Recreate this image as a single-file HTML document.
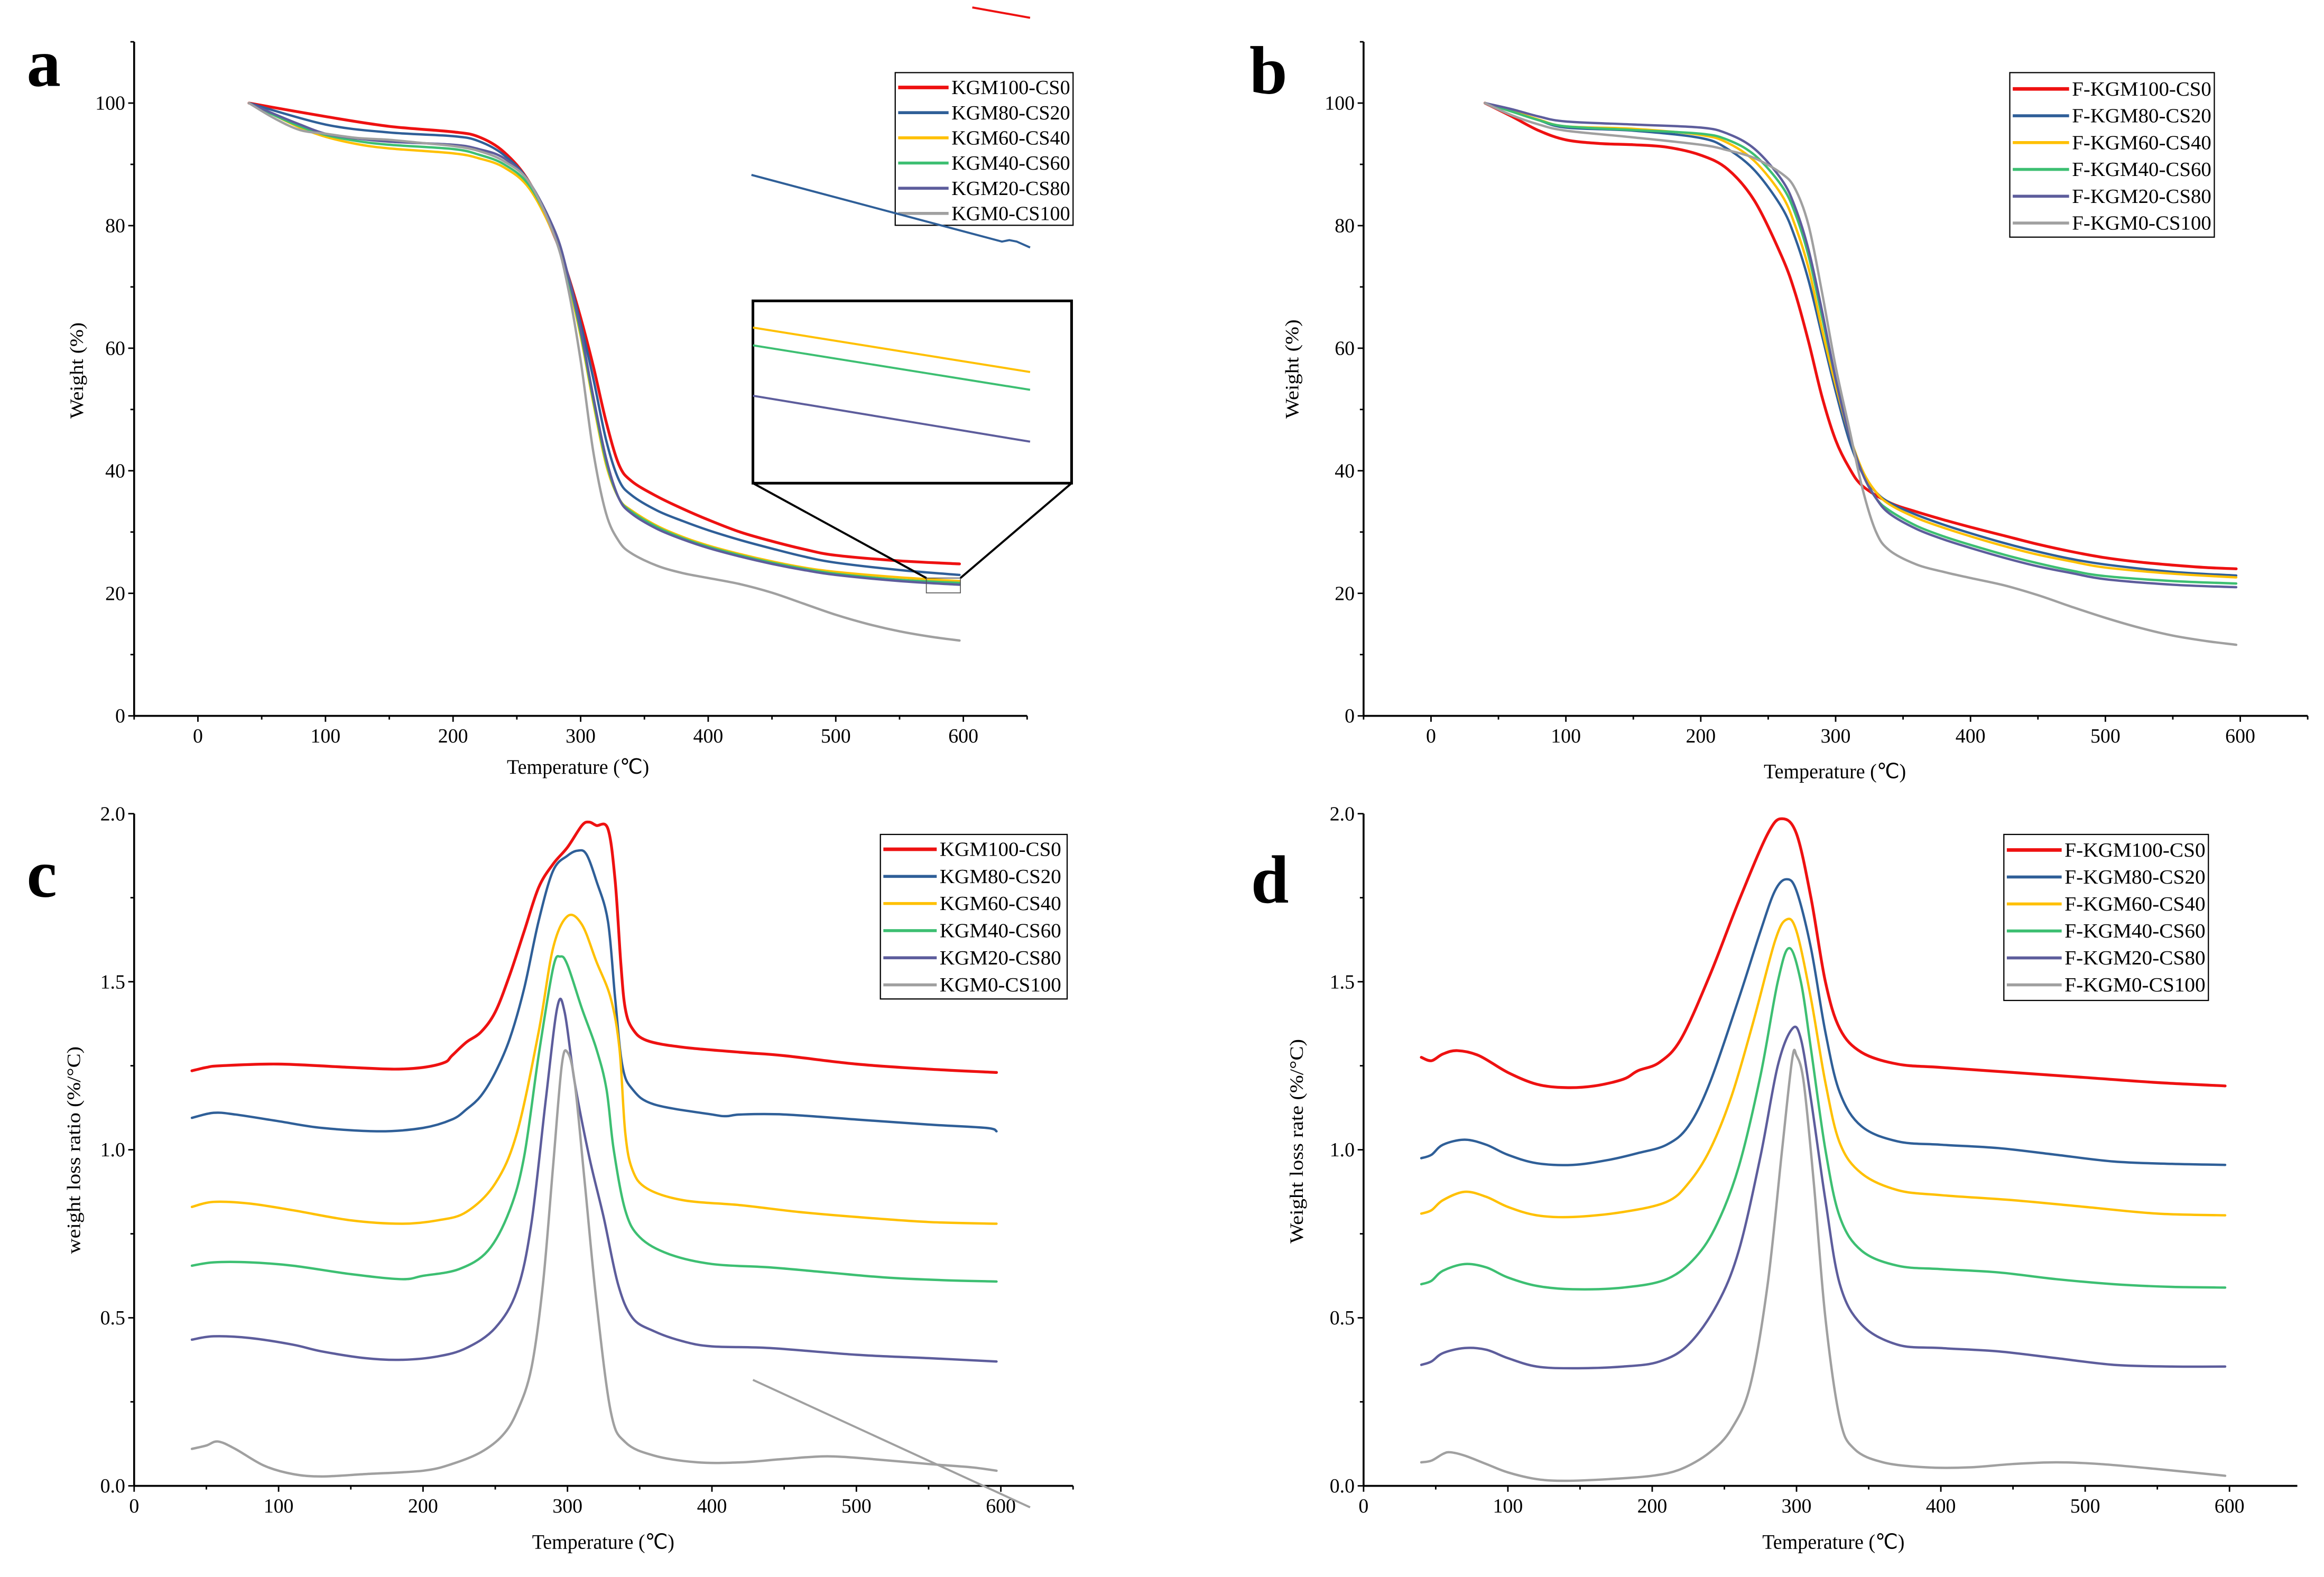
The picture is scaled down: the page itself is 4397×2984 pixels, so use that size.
<!DOCTYPE html>
<html><head><meta charset="utf-8"><style>
html,body{margin:0;padding:0;background:#fff;}
svg{display:block;}
text{font-family:"Liberation Serif",serif;fill:#000;}
</style></head><body>
<svg id="fig" xmlns="http://www.w3.org/2000/svg" width="4397" height="2984" viewBox="0 0 1568 1064" preserveAspectRatio="none">
<rect x="0" y="0" width="1568" height="1064" fill="#fff"/>
<g id="layer"></g>
</svg>
<script>
// ---------- Panel a data (TGA, Weight %) ----------
const a_KGM100_T = [40,100,150,200,220,240,260,280,290,300,310,320,330,340,360,380,400,425,450,475,500,550,597];
const a_KGM100_W = [100,97.8,96.2,95.3,94.5,92,87,78,72,65,57,48,41,38.3,35.8,33.8,32,30,28.5,27.2,26.2,25.3,24.8];
const a_KGM80_T = [40,100,150,200,220,240,260,280,290,300,310,320,330,340,360,380,400,425,450,475,500,550,597];
const a_KGM80_W = [100,96.5,95.2,94.6,93.8,91.5,87,78,72,64,55,45,38.5,36,33.5,31.8,30.3,28.7,27.3,26,25,23.8,23];
const a_KGM60_T = [40,60,80,100,125,150,200,220,240,260,280,290,300,310,320,330,340,360,380,400,425,450,475,500,550,597];
const a_KGM60_W = [100,98,96,94.5,93.3,92.6,91.8,91,89.5,86,78,71,62,51,41,35.5,33.5,31,29.2,27.8,26.4,25.2,24.2,23.5,22.6,22];
const a_KGM40_T = [40,60,80,100,125,150,200,220,240,260,280,290,300,310,320,330,340,360,380,400,425,450,475,500,550,597];
const a_KGM40_W = [100,98,96.2,94.8,93.8,93.2,92.5,91.6,90,86.5,78.5,71.5,62.5,51.5,41.5,35.5,33.3,30.8,29,27.6,26.2,25,24,23.2,22.2,21.7];
const a_KGM20_T = [40,60,80,100,125,150,200,220,240,260,280,290,300,310,320,330,340,360,380,400,425,450,475,500,550,597];
const a_KGM20_W = [100,98.2,96.5,95,94.2,93.7,93.2,92.5,91,87,79,72,63,52,42,35.5,33,30.5,28.8,27.4,26,24.8,23.8,23,22,21.4];
const a_KGM0_T = [40,60,80,100,125,150,175,200,220,240,260,280,290,300,310,320,330,340,360,380,400,425,450,475,500,525,550,575,597];
const a_KGM0_W = [100,97.5,95.6,95,94.3,94,93.5,93,92.2,90.5,87,78,70,58,43,33,28.5,26.5,24.5,23.3,22.5,21.5,20.1,18.3,16.5,15,13.8,12.9,12.3];

// ---------- Panel b data ----------
const b_FKGM100_T = [40,60,80,100,125,150,175,200,220,240,260,270,280,290,300,310,320,340,360,380,400,425,450,475,500,525,550,575,597];
const b_FKGM100_W = [100,97.8,95.5,94,93.4,93.2,92.8,91.5,89.2,84,75,69,61,52,45,40.5,37.5,34.8,33.3,32,30.8,29.4,28,26.8,25.8,25.1,24.6,24.2,24];
const b_FKGM80_T = [40,60,80,100,150,200,220,240,260,270,280,290,300,310,320,330,340,360,380,400,425,450,475,500,550,597];
const b_FKGM80_W = [100,98.8,97.2,96,95.5,94.3,92.5,89,83,78,71,62,53,45,39.5,36.5,34.8,32.8,31.2,29.8,28.2,26.8,25.6,24.7,23.5,22.9];
const b_FKGM60_T = [40,60,80,100,150,200,220,240,260,270,280,290,300,310,320,330,340,360,380,400,425,450,475,500,550,597];
const b_FKGM60_W = [100,98.7,97.3,96.2,95.8,94.8,93.5,90.5,85,80,73,63,54,46,40,36.5,34.5,32.3,30.7,29.3,27.7,26.3,25.2,24.2,23.2,22.6];
const b_FKGM40_T = [40,60,80,100,150,200,220,240,260,270,280,290,300,310,320,330,340,360,380,400,425,450,475,500,550,597];
const b_FKGM40_W = [100,98.6,97.2,96.2,95.6,95,94,91.5,86.5,82,75,65,55,46,39.5,35.5,33.5,31,29.3,27.9,26.3,24.9,23.7,22.8,22,21.6];
const b_FKGM20_T = [40,60,80,100,150,200,220,240,260,270,280,290,300,310,320,330,340,360,380,400,425,450,475,500,550,597];
const b_FKGM20_W = [100,99,97.8,97,96.5,96,95,92.5,87.5,83,76,66,55,46,39.5,35.5,33,30.5,28.8,27.4,25.8,24.4,23.3,22.3,21.4,21];
const b_FKGM0_T = [40,60,80,100,150,200,220,240,260,270,280,290,300,310,320,330,340,360,380,400,425,450,475,500,525,550,575,597];
const b_FKGM0_W = [100,98,96.5,95.5,94.4,93.2,92.3,91,88.5,86,80,69,57,47,37,30,27,24.7,23.5,22.5,21.3,19.7,17.8,16,14.4,13.1,12.2,11.6];

// ---------- Panel c data (DTG) ----------
const c_KGM100_T = [40,50,60,100,150,180,200,215,220,230,240,250,260,270,280,290,300,310,315,320,328,333,337,340,345,355,380,420,450,500,550,597];
const c_KGM100_R = [1.235,1.245,1.25,1.255,1.245,1.24,1.245,1.26,1.28,1.32,1.35,1.41,1.52,1.65,1.78,1.85,1.90,1.965,1.975,1.965,1.955,1.8,1.55,1.42,1.36,1.325,1.305,1.29,1.28,1.255,1.24,1.23];
const c_KGM80_T = [40,55,70,100,130,170,200,220,230,240,250,260,270,280,290,300,307,313,320,328,333,338,345,360,400,410,420,450,500,550,590,597];
const c_KGM80_R = [1.095,1.11,1.105,1.085,1.065,1.055,1.065,1.09,1.12,1.16,1.23,1.33,1.48,1.68,1.83,1.875,1.89,1.88,1.8,1.68,1.45,1.25,1.18,1.135,1.105,1.1,1.105,1.105,1.09,1.075,1.065,1.055];
const c_KGM60_T = [40,55,80,110,150,185,210,230,250,265,280,290,300,310,320,330,336,340,345,355,380,420,460,500,550,597];
const c_KGM60_R = [0.83,0.845,0.84,0.82,0.79,0.78,0.79,0.815,0.9,1.05,1.35,1.6,1.695,1.67,1.56,1.45,1.3,1.05,0.94,0.885,0.85,0.835,0.815,0.8,0.785,0.78];
const c_KGM40_T = [40,55,80,110,150,185,200,225,245,260,270,280,290,295,300,310,320,327,332,340,350,370,400,440,480,520,560,597];
const c_KGM40_R = [0.655,0.665,0.665,0.655,0.63,0.615,0.625,0.645,0.7,0.82,0.98,1.28,1.54,1.575,1.55,1.42,1.3,1.18,1.0,0.82,0.74,0.69,0.66,0.65,0.635,0.62,0.612,0.608];
const c_KGM20_T = [40,55,80,110,130,160,185,210,230,250,265,275,285,293,298,305,315,325,335,345,360,380,400,440,500,550,597];
const c_KGM20_R = [0.435,0.445,0.44,0.42,0.4,0.38,0.375,0.385,0.41,0.47,0.58,0.78,1.15,1.425,1.41,1.2,0.98,0.8,0.6,0.5,0.46,0.43,0.415,0.41,0.39,0.38,0.37];
const c_KGM0_T = [40,50,58,70,90,110,130,160,200,220,240,255,265,275,283,290,296,300,305,312,320,330,340,360,390,420,450,480,510,550,580,597];
const c_KGM0_R = [0.11,0.12,0.132,0.11,0.06,0.035,0.028,0.035,0.045,0.065,0.1,0.15,0.22,0.35,0.6,0.95,1.25,1.29,1.2,0.9,0.55,0.22,0.13,0.09,0.07,0.07,0.08,0.088,0.08,0.065,0.055,0.045];

// ---------- Panel d data ----------
const d_FKGM100_T = [40,47,55,65,80,100,120,140,160,180,190,205,220,240,260,280,290,300,310,320,330,345,370,400,450,500,550,597];
const d_FKGM100_R = [1.275,1.265,1.285,1.295,1.28,1.23,1.195,1.185,1.19,1.21,1.235,1.26,1.33,1.52,1.74,1.94,1.985,1.94,1.75,1.5,1.36,1.29,1.255,1.245,1.23,1.215,1.2,1.19];
const d_FKGM80_T = [40,47,55,70,85,100,120,145,170,190,210,225,240,260,275,285,293,300,310,320,330,345,370,400,440,480,520,560,597];
const d_FKGM80_R = [0.975,0.985,1.015,1.03,1.015,0.985,0.96,0.955,0.97,0.99,1.015,1.07,1.2,1.45,1.65,1.77,1.805,1.77,1.6,1.35,1.17,1.07,1.025,1.015,1.005,0.985,0.965,0.958,0.955];
const d_FKGM60_T = [40,47,55,70,85,100,120,145,180,210,225,240,255,270,285,293,300,310,320,330,345,370,400,450,500,550,597];
const d_FKGM60_R = [0.81,0.82,0.85,0.875,0.86,0.83,0.805,0.8,0.815,0.845,0.9,1.0,1.16,1.38,1.62,1.685,1.65,1.45,1.2,1.02,0.93,0.88,0.865,0.85,0.83,0.81,0.805];
const d_FKGM40_T = [40,47,55,70,85,100,120,145,180,210,230,245,260,275,287,295,303,310,320,330,345,370,400,440,480,520,560,597];
const d_FKGM40_R = [0.6,0.61,0.64,0.66,0.65,0.62,0.595,0.585,0.59,0.615,0.68,0.78,0.95,1.22,1.5,1.6,1.5,1.3,1.0,0.8,0.7,0.655,0.645,0.635,0.615,0.6,0.592,0.59];
const d_FKGM20_T = [40,47,55,70,85,100,120,145,180,205,225,245,260,275,287,297,303,310,320,330,345,370,400,440,480,520,560,597];
const d_FKGM20_R = [0.36,0.37,0.395,0.41,0.405,0.38,0.355,0.35,0.355,0.37,0.42,0.54,0.7,0.98,1.25,1.36,1.33,1.15,0.85,0.6,0.48,0.42,0.41,0.4,0.38,0.36,0.355,0.355];
const d_FKGM0_T = [40,47,55,60,70,85,100,120,140,170,200,220,240,255,268,280,290,297,300,305,312,320,330,340,360,390,420,450,480,510,550,597];
const d_FKGM0_R = [0.07,0.075,0.095,0.1,0.09,0.065,0.04,0.02,0.015,0.02,0.03,0.05,0.1,0.17,0.3,0.6,1.0,1.27,1.28,1.2,0.9,0.5,0.2,0.11,0.07,0.055,0.055,0.065,0.07,0.065,0.05,0.03];

const xTickLabelsA = ["0","100","200","300","400","500","600"];
const yTickLabelsA = ["0","20","40","60","80","100"];
const yTickLabelsC = ["0.0","0.5","1.0","1.5","2.0"];
const legendA = ["KGM100-CS0","KGM80-CS20","KGM60-CS40","KGM40-CS60","KGM20-CS80","KGM0-CS100"];
const legendB = ["F-KGM100-CS0","F-KGM80-CS20","F-KGM60-CS40","F-KGM40-CS60","F-KGM20-CS80","F-KGM0-CS100"];

const COLORS = ["#ee1111","#2f5f98","#ffc000","#3dbf72","#5d5d9c","#a0a0a0"];
const NS = "http://www.w3.org/2000/svg";
const layer = document.getElementById("layer");

function mk(tag, attrs, parent){
  const e = document.createElementNS(NS, tag);
  for (const k in attrs) e.setAttribute(k, attrs[k]);
  (parent||layer).appendChild(e);
  return e;
}
function smoothPath(pts){
  let d = "M"+pts[0][0].toFixed(2)+","+pts[0][1].toFixed(2);
  for (let i=0;i<pts.length-1;i++){
    const p0=pts[Math.max(0,i-1)], p1=pts[i], p2=pts[i+1], p3=pts[Math.min(pts.length-1,i+2)];
    const t=1/6;
    const c1=[p1[0]+(p2[0]-p0[0])*t, p1[1]+(p2[1]-p0[1])*t];
    const c2=[p2[0]-(p3[0]-p1[0])*t, p2[1]-(p3[1]-p1[1])*t];
    d+=" C"+c1[0].toFixed(2)+","+c1[1].toFixed(2)+" "+c2[0].toFixed(2)+","+c2[1].toFixed(2)+" "+p2[0].toFixed(2)+","+p2[1].toFixed(2);
  }
  return d;
}

function panel(cfg){
  const g = mk("g",{});
  
  
  const xS = v => cfg.x0 + (v - cfg.xmin) * (cfg.x1 - cfg.x0) / (cfg.xmax - cfg.xmin);
  const yS = v => cfg.y0 - (v - cfg.ymin) * (cfg.y0 - cfg.y1) / (cfg.ymax - cfg.ymin);
  const ax = mk("line",{x1:cfg.x0,y1:cfg.y0,x2:cfg.x1,y2:cfg.y0,stroke:"#000","stroke-width":1.3},g);
  
  
  const ay = mk("line",{x1:cfg.x0,y1:cfg.y0,x2:cfg.x0,y2:cfg.y1,stroke:"#000","stroke-width":1.3},g);
  
  
  for (let v=cfg.xmin; v<=cfg.xmax+0.01; v+=50){
    const major = (Math.round(v)%100===0);
    mk("line",{x1:xS(v),y1:cfg.y0,x2:xS(v),y2:cfg.y0+(major?4:2.5),stroke:"#000","stroke-width":1},g);
  }
  cfg.xLabels.forEach(s=>{
    const t = mk("text",{x:xS(parseFloat(s)),y:cfg.y0+18,"font-size":13.5,"text-anchor":"middle"},g);
    t.textContent = s;
    
    
  });
  for (let v=cfg.ymin; v<=cfg.ymax+1e-6; v+=cfg.yMinor){
    const major = Math.abs(Math.round(v/cfg.yMajor)*cfg.yMajor - v) < 1e-6;
    mk("line",{x1:cfg.x0,y1:yS(v),x2:cfg.x0-(major?4:2.5),y2:yS(v),stroke:"#000","stroke-width":1},g);
  }
  cfg.yLabels.forEach(s=>{
    const t = mk("text",{x:cfg.x0-6,y:yS(parseFloat(s))+4.5,"font-size":13.5,"text-anchor":"end"},g);
    t.textContent = s;
    
    
  });
  const xt = mk("text",{x:cfg.xtx,y:cfg.xty,"font-size":14,"text-anchor":"middle",textLength:96,lengthAdjust:"spacingAndGlyphs"},g);
  xt.textContent = "Temperature (\u2103)";
  
  
  const yt = mk("text",{x:0,y:0,"font-size":13,"text-anchor":"middle",textLength:cfg.ytLen,lengthAdjust:"spacingAndGlyphs",transform:"translate("+cfg.ytx+","+cfg.yty+") rotate(-90)"},g);
  yt.textContent = cfg.yTitle;
  
  
  const pl = mk("text",{x:cfg.lx,y:cfg.ly,"font-size":46,"font-weight":"bold"},g);
  pl.textContent = cfg.letter;
  
  
  cfg.series.forEach((s,i)=>{
    const pts = s[0].map((tv,j)=>[xS(tv), yS(s[1][j])]);
    const p = mk("path",{d:smoothPath(pts),fill:"none",stroke:COLORS[i],"stroke-width":i===0?1.9:1.6,"stroke-linejoin":"round","stroke-linecap":"round"},g);
    
    
  });
  const L = cfg.leg;
  const lg = mk("g",{},g);
  
  
  mk("rect",{x:L.x,y:L.y,width:L.w,height:L.h,fill:"#fff",stroke:"#000","stroke-width":0.8},lg);
  cfg.legend.forEach((name,i)=>{
    const yy = L.ey + i*L.step;
    const e = mk("g",{},lg);
    
    
    mk("line",{x1:L.lx0,y1:yy,x2:L.lx1,y2:yy,stroke:COLORS[i],"stroke-width":i===0?2.4:2},e);
    const t = mk("text",{x:L.tx,y:yy+4.5,"font-size":13.5,textLength:L.tw,lengthAdjust:"spacingAndGlyphs"},e);
    t.textContent = name;
  });
  return {xS,yS,g};
}

const pa = panel({name:"panel-a-tga",letter:"a",lx:18,ly:58,x0:90.5,x1:693,xmin:-50,xmax:650,y0:483,y1:28.2,ymin:0,ymax:110,
  yMajor:20,yMinor:10,xLabels:xTickLabelsA,yLabels:yTickLabelsA,xtx:390,xty:522,ytx:56,yty:250,ytLen:65,yTitle:"Weight (%)",
  legend:legendA,leg:{x:604,y:49,w:120,h:103,ey:59,step:17,lx0:606,lx1:640,tx:642,tw:80},
  series:[[a_KGM100_T,a_KGM100_W],[a_KGM80_T,a_KGM80_W],[a_KGM60_T,a_KGM60_W],[a_KGM40_T,a_KGM40_W],[a_KGM20_T,a_KGM20_W],[a_KGM0_T,a_KGM0_W]]});

const pb = panel({name:"panel-b-tga",letter:"b",lx:843,ly:63,x0:920,x1:1557,xmin:-50,xmax:650,y0:483,y1:28.2,ymin:0,ymax:110,
  yMajor:20,yMinor:10,xLabels:xTickLabelsA,yLabels:yTickLabelsA,xtx:1238,xty:525,ytx:876,yty:249,ytLen:67,yTitle:"Weight (%)",
  legend:legendB,leg:{x:1356,y:49,w:138,h:111,ey:60,step:18.1,lx0:1358,lx1:1396,tx:1398,tw:94},
  series:[[b_FKGM100_T,b_FKGM100_W],[b_FKGM80_T,b_FKGM80_W],[b_FKGM60_T,b_FKGM60_W],[b_FKGM40_T,b_FKGM40_W],[b_FKGM20_T,b_FKGM20_W],[b_FKGM0_T,b_FKGM0_W]]});

const pc = panel({name:"panel-c-dtg",letter:"c",lx:18,ly:605,x0:90.5,x1:724,xmin:0,xmax:650,y0:1002.5,y1:549,ymin:0,ymax:2,
  yMajor:0.5,yMinor:0.25,xLabels:xTickLabelsA,yLabels:yTickLabelsC,xtx:407,xty:1045,ytx:54,yty:776,ytLen:140,yTitle:"weight loss ratio (%/\u00B0C)",
  legend:legendA,leg:{x:594,y:563,w:126,h:111,ey:573,step:18.3,lx0:596,lx1:632,tx:634,tw:82},
  series:[[c_KGM100_T,c_KGM100_R],[c_KGM80_T,c_KGM80_R],[c_KGM60_T,c_KGM60_R],[c_KGM40_T,c_KGM40_R],[c_KGM20_T,c_KGM20_R],[c_KGM0_T,c_KGM0_R]]});

const pd = panel({name:"panel-d-dtg",letter:"d",lx:844,ly:609,x0:920,x1:1550,xmin:0,xmax:647,y0:1002.5,y1:549,ymin:0,ymax:2,
  yMajor:0.5,yMinor:0.25,xLabels:xTickLabelsA,yLabels:yTickLabelsC,xtx:1237,xty:1045,ytx:879,yty:770,ytLen:138,yTitle:"Weight loss rate (%/\u00B0C)",
  legend:legendB,leg:{x:1352,y:563,w:138,h:112,ey:573.5,step:18.2,lx0:1354,lx1:1391,tx:1393,tw:95},
  series:[[d_FKGM100_T,d_FKGM100_R],[d_FKGM80_T,d_FKGM80_R],[d_FKGM60_T,d_FKGM60_R],[d_FKGM40_T,d_FKGM40_R],[d_FKGM20_T,d_FKGM20_R],[d_FKGM0_T,d_FKGM0_R]]});

const ins = mk("g",{});


mk("rect",{x:508,y:203,width:215,height:123,fill:"none",stroke:"#000","stroke-width":1.8},ins);
mk("line",{x1:508,y1:221,x2:695,y2:251,stroke:COLORS[2],"stroke-width":1.4},ins);
mk("line",{x1:508,y1:233,x2:695,y2:263,stroke:COLORS[3],"stroke-width":1.4},ins);
mk("line",{x1:508,y1:267,x2:695,y2:298,stroke:COLORS[4],"stroke-width":1.4},ins);
mk("rect",{x:625,y:390,width:23,height:10,fill:"none",stroke:"#555","stroke-width":0.6},ins);
mk("line",{x1:508,y1:326,x2:625,y2:390,stroke:"#000","stroke-width":1.4},ins);
mk("line",{x1:723,y1:326,x2:648,y2:390,stroke:"#000","stroke-width":1.4},ins);
const art1 = mk("line",{x1:656,y1:5,x2:695,y2:12,stroke:COLORS[0],"stroke-width":1.4});


const art2 = mk("polyline",{points:"507,118 676,163 681,162 686,163 695,167",fill:"none",stroke:COLORS[1],"stroke-width":1.4});


const art3 = mk("line",{x1:508,y1:931,x2:695,y2:1017,stroke:COLORS[5],"stroke-width":1.4});


</script>
</body></html>
